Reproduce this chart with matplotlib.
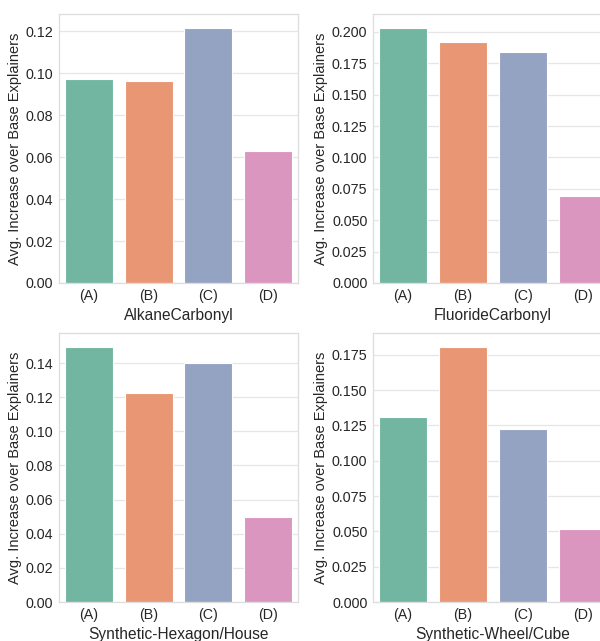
import matplotlib
matplotlib.use("Agg")
import matplotlib.pyplot as plt
import seaborn as sns
import numpy as np

sns.set_theme(style="whitegrid")
plt.rcParams['font.family'] = ['Liberation Sans', 'DejaVu Sans']

categories = ["(A)", "(B)", "(C)", "(D)"]
titles = ["AlkaneCarbonyl", "FluorideCarbonyl", "Synthetic-Hexagon/House", "Synthetic-Wheel/Cube"]
alkane = [0.0973, 0.0965, 0.1218, 0.0629]
fluoride = [0.2034, 0.1917, 0.1843, 0.0689]
hexagon = [0.1497, 0.1225, 0.1400, 0.0499]
wheel = [0.1312, 0.1809, 0.1223, 0.0516]
ylabel = "Avg. Increase over Base Explainers"

datasets = [alkane, fluoride, hexagon, wheel]
palette = sns.color_palette("Set2", 4, desat=0.75)

W, H = 600, 641
fig = plt.figure(figsize=(W / 100, H / 100), dpi=100)
# axes rects in pixels: left, top, right, bottom
rects = [(59, 14, 298, 283), (373, 14, 613, 283), (59, 333, 298, 602), (373, 333, 613, 602)]
fmts = ["%.2f", "%.3f", "%.2f", "%.3f"]
for vals, title, r, fmt in zip(datasets, titles, rects, fmts):
    l, t, rr, b = r
    ax = fig.add_axes([l / W, 1 - b / H, (rr - l) / W, (b - t) / H])
    x = np.arange(len(categories))
    ax.bar(x, vals, width=0.8, color=palette, edgecolor="white", linewidth=0.8, zorder=2)
    ax.set_xlim(-0.5, len(categories) - 0.5)
    ax.set_ylim(0, max(vals) * 1.053)
    ax.set_xticks(x)
    ax.set_xticklabels(categories)
    ax.yaxis.set_major_formatter(matplotlib.ticker.FormatStrFormatter(fmt))
    ax.tick_params(axis="both", labelsize=10.3, colors="#262626", length=0, pad=4)
    ax.set_xlabel(title, fontsize=11.2, color="#262626", labelpad=4)
    ax.set_ylabel(ylabel, fontsize=10.5, color="#262626", labelpad=3)
    ax.grid(axis="x", visible=False)
    ax.grid(axis="y", color="#e6e6e6", linewidth=0.9, zorder=0)
    ax.set_axisbelow(True)
    for s in ax.spines.values():
        s.set_color("#dddddd")
        s.set_linewidth(0.9)

fig.savefig("out.png", dpi=100)
